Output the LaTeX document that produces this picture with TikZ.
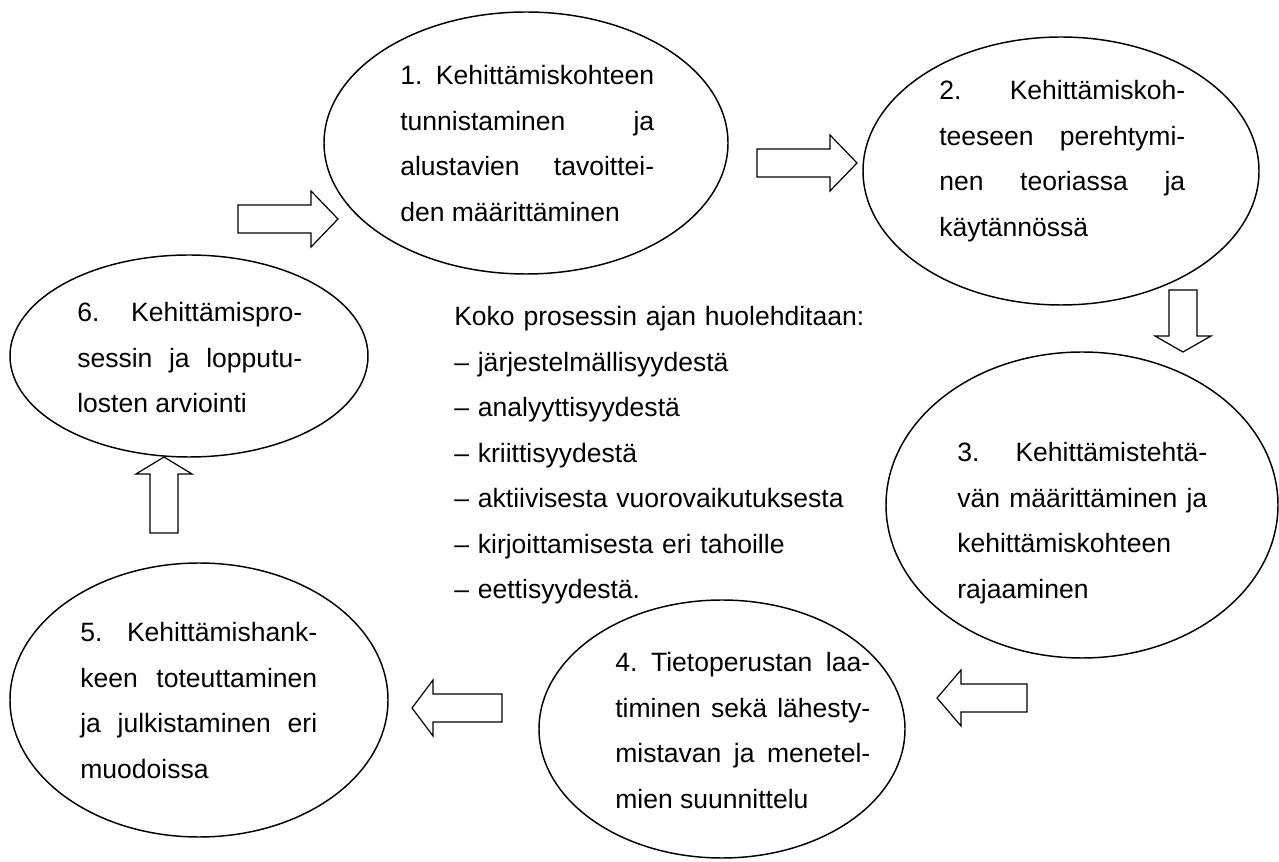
\documentclass[tikz,border=0pt]{standalone}
\usepackage{fontspec}
\setmainfont{Liberation Sans}
\usetikzlibrary{shapes.geometric}
\tolerance=10000
\hbadness=10000
\hyphenpenalty=10000

\tikzset{
  oval/.style={draw, ellipse, line width=1.1pt, inner sep=0pt},
  steptext/.style={anchor=north west, inner sep=0pt, align=justify},
  arrbox/.style={draw, line width=0.9pt, fill=white, line join=miter},
  pics/barrow/.style 2 args={code={
    \draw[arrbox] (-#1/2,-14) -- ({#1/2-#2},-14) -- ({#1/2-#2},-28) -- ({#1/2},0)
      -- ({#1/2-#2},28) -- ({#1/2-#2},14) -- (-#1/2,14) -- cycle;
  }}
}

\begin{document}
\begin{tikzpicture}[x=0.75pt, y=-0.75pt, font=\fontsize{19.9}{34.1}\selectfont\frenchspacing]
   \useasboundingbox (0,0) rectangle (1279,862);
   % ovals
   \node[oval, minimum width=303pt, minimum height=196.5pt] (e1) at (526,143) {};
   \node[oval, minimum width=297pt, minimum height=201pt] (e2) at (1061,171) {};
   \node[oval, minimum width=294pt, minimum height=229.5pt] (e3) at (1082,505) {};
   \node[oval, minimum width=274.5pt, minimum height=193.5pt] (e4) at (722,729) {};
   \node[oval, minimum width=283.5pt, minimum height=205.5pt] (e5) at (199,700) {};
   \node[oval, minimum width=268.5pt, minimum height=151.5pt] (e6) at (189,356) {};
   % texts
   \node[steptext, text width=190.5pt] (t1) at (400,65.5) {1. Kehittämiskohteen\linebreak tunnistaminen ja\linebreak alustavien tavoittei-\linebreak den määrittäminen};
   \node[steptext, text width=184.5pt] (t2) at (939,80.5) {2. Kehittämiskoh-\linebreak teeseen perehtymi-\linebreak nen teoriassa ja\linebreak käytännössä};
   \node[steptext, text width=187.5pt] (t3) at (957,442.5) {3. Kehittämistehtä-\linebreak vän määrittäminen ja\linebreak kehittämiskohteen\linebreak rajaaminen};
   \node[steptext, text width=191.25pt] (t4) at (615,652.5) {4. Tietoperustan laa-\linebreak timinen sekä lähesty-\linebreak mistavan ja menetel-\linebreak mien suunnittelu};
   \node[steptext, text width=177.75pt] (t5) at (80,622.5) {5. Kehittämishank-\linebreak keen toteuttaminen\linebreak ja julkistaminen eri\linebreak muodoissa};
   \node[steptext, text width=168.75pt] (t6) at (77,302.5) {6. Kehittämispro-\linebreak sessin ja lopputu-\linebreak losten arviointi};
   \node[anchor=north west, inner sep=0pt, text width=320pt, align=left] (mid) at (454,306.5)
      {Koko prosessin ajan huolehditaan:\\ – järjestelmällisyydestä\\ – analyyttisyydestä\\ – kriittisyydestä\\ – aktiivisesta vuorovaikutuksesta\\ – kirjoittamisesta eri tahoille\\ – eettisyydestä.};
   % arrows
   \coordinate (a1) at (288,219);
   \coordinate (a2) at (807,163);
   \coordinate (a3) at (1183,321);
   \coordinate (a4) at (982,698);
   \coordinate (a5) at (457,708);
   \coordinate (a6) at (164,495);
   \pic at (a1) {barrow={100}{27}};
   \pic at (a2) {barrow={100}{27}};
   \pic[rotate=-90] at (a3) {barrow={62}{16}};
   \pic[rotate=180] at (a4) {barrow={90}{24}};
   \pic[rotate=180] at (a5) {barrow={90}{21}};
   \pic[rotate=90] at (a6) {barrow={76}{17}};
\end{tikzpicture}
\end{document}
